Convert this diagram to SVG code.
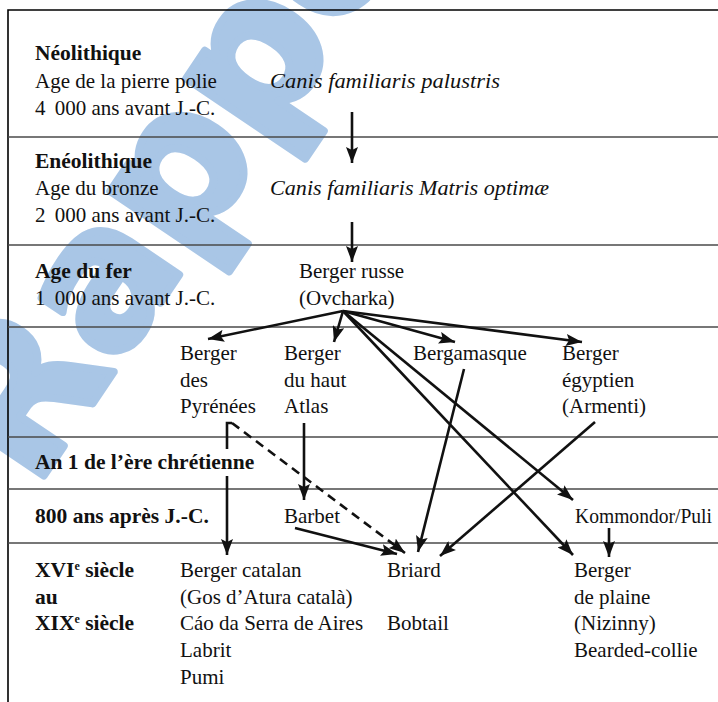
<svg xmlns="http://www.w3.org/2000/svg" width="718" height="702" viewBox="0 0 718 702">
<style>
.t{font-family:"Liberation Serif","Times New Roman",serif;font-size:21px;fill:#111}
.b{font-weight:bold;font-size:21.5px}
.i{font-style:italic}
.sep{stroke:#4a4a4a;stroke-width:1.3}
.frame{stroke:#000;stroke-width:1.6;fill:none}
.c{stroke:#111;stroke-width:2.6;fill:none;marker-end:url(#ah)}
.d{stroke:#111;stroke-width:2.6;fill:none;stroke-dasharray:9 6;marker-end:url(#ah)}
.wm{font-family:"DejaVu Sans","Liberation Sans",sans-serif;font-weight:bold;font-size:190px;fill:#a9c6e6;stroke:#a9c6e6;stroke-width:8;stroke-linejoin:round}
</style>
<defs>
<marker id="ah" markerUnits="userSpaceOnUse" markerWidth="17" markerHeight="12" refX="16" refY="6" orient="auto">
<path d="M0,0 L16,6 L0,12 L3,6 z" fill="#111"/>
</marker>
</defs>
<rect width="718" height="702" fill="#fff"/>
<g id="watermark">
<text class="wm" transform="translate(34,490) rotate(-56)">Rappo</text>
</g>
<g id="frame">
<path class="frame" d="M8,702 L8,10 L718,10"/>
<line class="sep" x1="8" y1="137" x2="718" y2="137"/>
<line class="sep" x1="8" y1="245" x2="718" y2="245"/>
<line class="sep" x1="8" y1="327" x2="718" y2="327"/>
<line class="sep" x1="8" y1="437" x2="718" y2="437"/>
<line class="sep" x1="8" y1="489" x2="718" y2="489"/>
<line class="sep" x1="8" y1="543" x2="718" y2="543"/>
</g>
<g id="periods">
<g id="p-neolithique">
<text class="t b" x="35" y="60">Néolithique</text>
<text class="t" x="35" y="88">Age de la pierre polie</text>
<text class="t" x="35" y="115">4 <tspan dx="4">000 ans avant J.-C.</tspan></text>
</g>
<g id="p-eneolithique">
<text class="t b" x="35" y="168">Enéolithique</text>
<text class="t" x="35" y="195">Age du bronze</text>
<text class="t" x="35" y="222">2 <tspan dx="4">000 ans avant J.-C.</tspan></text>
</g>
<g id="p-fer">
<text class="t b" x="35" y="278">Age du fer</text>
<text class="t" x="35" y="305">1 <tspan dx="4">000 ans avant J.-C.</tspan></text>
</g>
<g id="p-an1">
<text class="t b" x="35" y="469">An 1 de l’ère chrétienne</text>
</g>
<g id="p-800">
<text class="t b" x="35" y="523">800 ans après J.-C.</text>
</g>
<g id="p-xvi">
<text class="t b" x="35" y="577">XVI<tspan font-size="12" dy="-7">e</tspan><tspan dy="7"> siècle</tspan></text>
<text class="t b" x="35" y="604">au</text>
<text class="t b" x="35" y="630">XIX<tspan font-size="12" dy="-7">e</tspan><tspan dy="7"> siècle</tspan></text>
</g>
</g>
<g id="n-palustris"><text class="t i" x="270" y="88" textLength="230" lengthAdjust="spacingAndGlyphs">Canis familiaris palustris</text></g>
<g id="n-optimae"><text class="t i" x="270" y="195" textLength="279" lengthAdjust="spacingAndGlyphs">Canis familiaris Matris optimæ</text></g>
<g id="n-russe">
<text class="t" x="299" y="278">Berger russe</text>
<text class="t" x="299" y="305">(Ovcharka)</text>
</g>
<g id="n-pyrenees">
<text class="t" x="180" y="360">Berger</text>
<text class="t" x="180" y="387">des</text>
<text class="t" x="180" y="413">Pyrénées</text>
</g>
<g id="n-atlas">
<text class="t" x="284" y="360">Berger</text>
<text class="t" x="284" y="387">du haut</text>
<text class="t" x="284" y="413">Atlas</text>
</g>
<g id="n-bergamasque"><text class="t" x="413" y="360">Bergamasque</text></g>
<g id="n-egyptien">
<text class="t" x="562" y="360">Berger</text>
<text class="t" x="562" y="387">égyptien</text>
<text class="t" x="562" y="413">(Armenti)</text>
</g>
<g id="n-barbet"><text class="t" x="284" y="523">Barbet</text></g>
<g id="n-kommondor"><text class="t" x="575" y="523" textLength="137" lengthAdjust="spacingAndGlyphs">Kommondor/Puli</text></g>
<g id="n-catalan">
<text class="t" x="180" y="577">Berger catalan</text>
<text class="t" x="180" y="604">(Gos d’Atura català)</text>
<text class="t" x="180" y="630">Cáo da Serra de Aires</text>
<text class="t" x="180" y="657">Labrit</text>
<text class="t" x="180" y="684">Pumi</text>
</g>
<g id="n-briard">
<text class="t" x="387" y="577">Briard</text>
<text class="t" x="387" y="630">Bobtail</text>
</g>
<g id="n-plaine">
<text class="t" x="574" y="577">Berger</text>
<text class="t" x="574" y="604">de plaine</text>
<text class="t" x="574" y="630">(Nizinny)</text>
<text class="t" x="574" y="657">Bearded-collie</text>
</g>
<g id="connectors">
<line class="c" x1="352" y1="112" x2="352" y2="163"/>
<line class="c" x1="352" y1="222" x2="352" y2="262"/>
<line class="c" x1="343" y1="311" x2="208" y2="339"/>
<line class="c" x1="343" y1="311" x2="334" y2="342"/>
<line class="c" x1="343" y1="311" x2="455" y2="342"/>
<line class="c" x1="343" y1="311" x2="582" y2="342"/>
<line class="c" x1="343" y1="311" x2="573" y2="500"/>
<line class="c" x1="343" y1="311" x2="573" y2="555"/>
<path stroke="#111" stroke-width="2.6" fill="none" d="M227,449 L227,423 L232,423"/>
<line class="c" x1="227" y1="476" x2="227" y2="555"/>
<line class="d" x1="232" y1="423" x2="405" y2="553"/>
<line class="c" x1="304" y1="423" x2="304" y2="500"/>
<line class="c" x1="295" y1="528" x2="397" y2="554"/>
<line class="c" x1="464" y1="369" x2="418" y2="552"/>
<line class="c" x1="595" y1="422" x2="440" y2="556"/>
<line class="c" x1="609" y1="528" x2="609" y2="557"/>
</g>
</svg>
